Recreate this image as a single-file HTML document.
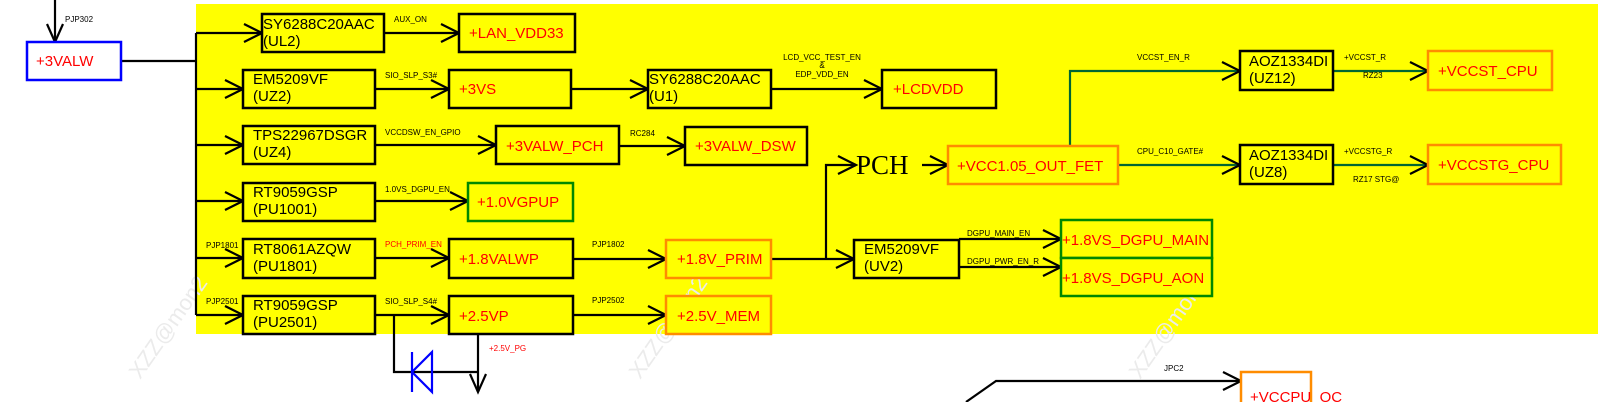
<!DOCTYPE html>
<html><head><meta charset="utf-8"><style>
html,body{margin:0;padding:0;background:#fff;}
svg{display:block;font-family:"Liberation Sans",sans-serif;}
.b{font-size:15px;fill:#000;}
.r{font-size:15px;fill:#f00;}
.s{font-size:8px;fill:#000;}
</style></head><body>
<svg width="1619" height="402" viewBox="0 0 1619 402" xmlns="http://www.w3.org/2000/svg">
<rect x="196" y="4" width="1402" height="330" fill="#ffff00"/>
<g font-size="22" fill="#ebebeb">
<text transform="translate(140,380) rotate(-55)">XZZ@mon2</text>
<text transform="translate(640,380) rotate(-55)">XZZ@mon2</text>
<text transform="translate(1140,380) rotate(-55)">XZZ@mon2</text>
</g>
<g fill="none" stroke="#000" stroke-width="2.2">
<line x1="55" y1="0" x2="55" y2="42"/><path d="M47,24 L55,42 L63,24"/>
<line x1="121" y1="61" x2="196" y2="61"/>
<line x1="196" y1="33" x2="196" y2="315"/>
<line x1="196" y1="33" x2="262" y2="33"/><path d="M244,24 L262,33 L244,42"/>
<line x1="196" y1="89" x2="243" y2="89"/><path d="M225,80 L243,89 L225,98"/>
<line x1="196" y1="145" x2="243" y2="145"/><path d="M225,136 L243,145 L225,154"/>
<line x1="196" y1="201" x2="243" y2="201"/><path d="M225,192 L243,201 L225,210"/>
<line x1="196" y1="258" x2="243" y2="258"/><path d="M225,249 L243,258 L225,267"/>
<line x1="196" y1="315" x2="243" y2="315"/><path d="M225,306 L243,315 L225,324"/>
<line x1="384" y1="33" x2="459" y2="33"/><path d="M441,24 L459,33 L441,42"/>
<line x1="375" y1="89" x2="449" y2="89"/><path d="M431,80 L449,89 L431,98"/>
<line x1="375" y1="145" x2="496" y2="145"/><path d="M478,136 L496,145 L478,154"/>
<line x1="375" y1="201" x2="468" y2="201"/><path d="M450,192 L468,201 L450,210"/>
<line x1="375" y1="258" x2="449" y2="258"/><path d="M431,249 L449,258 L431,267"/>
<line x1="375" y1="315" x2="449" y2="315"/><path d="M431,306 L449,315 L431,324"/>
<line x1="571" y1="89" x2="648" y2="89"/><path d="M630,80 L648,89 L630,98"/>
<line x1="771" y1="89" x2="882" y2="89"/><path d="M864,80 L882,89 L864,98"/>
<line x1="619" y1="146" x2="685" y2="146"/><path d="M667,137 L685,146 L667,155"/>
<line x1="573" y1="259" x2="666" y2="259"/><path d="M648,250 L666,259 L648,268"/>
<line x1="573" y1="315" x2="666" y2="315"/><path d="M648,306 L666,315 L648,324"/>
<line x1="771" y1="259" x2="854" y2="259"/><path d="M836,250 L854,259 L836,268"/>
<path d="M826,259 L826,165 L856,165"/><path d="M838,156 L856,165 L838,174"/>
<line x1="922" y1="165" x2="948" y2="165"/><path d="M930,156 L948,165 L930,174"/>
<line x1="959" y1="239" x2="1061" y2="239"/><path d="M1043,230 L1061,239 L1043,248"/>
<line x1="959" y1="267" x2="1061" y2="267"/><path d="M1043,258 L1061,267 L1043,276"/>
<path d="M394,315 L394,372 L478,372"/>
<line x1="478" y1="334" x2="478" y2="392"/><path d="M470,374 L478,392 L486,374"/>
<path d="M966,402 L996,381 L1241,381"/><path d="M1223,372 L1241,381 L1223,390"/>
</g>
<g fill="none" stroke="#063" stroke-width="2.2">
<path d="M1070,146 L1070,71 L1240,71"/>
<line x1="1118" y1="165" x2="1240" y2="165"/>
<line x1="1333" y1="71" x2="1428" y2="71"/>
<line x1="1333" y1="165" x2="1428" y2="165"/>
</g>
<g fill="none" stroke="#000" stroke-width="2.2">
<path d="M1222,62 L1240,71 L1222,80"/><path d="M1222,156 L1240,165 L1222,174"/>
<path d="M1410,62 L1428,71 L1410,80"/><path d="M1410,156 L1428,165 L1410,174"/>
</g>
<g stroke="#0000ff" stroke-width="2.2" fill="none"><line x1="412" y1="352" x2="412" y2="392"/><path d="M432,352 L412,372 L432,392 Z"/></g>
<g stroke-width="2.5" fill="#ffff00">
<rect x="27" y="42" width="94" height="38" fill="#fff" stroke="#0000ff"/>
<rect x="262" y="14" width="122" height="38" stroke="#000"/>
<rect x="243" y="70" width="132" height="38" stroke="#000"/>
<rect x="243" y="126" width="132" height="38" stroke="#000"/>
<rect x="243" y="183" width="132" height="38" stroke="#000"/>
<rect x="243" y="239" width="132" height="39" stroke="#000"/>
<rect x="243" y="296" width="132" height="38" stroke="#000"/>
<rect x="459" y="14" width="116" height="38" stroke="#000"/>
<rect x="449" y="70" width="122" height="38" stroke="#000"/>
<rect x="496" y="126" width="123" height="38" stroke="#000"/>
<rect x="468" y="183" width="105" height="38" stroke="#080"/>
<rect x="449" y="239" width="124" height="39" stroke="#000"/>
<rect x="449" y="296" width="124" height="38" stroke="#000"/>
<rect x="648" y="70" width="123" height="38" stroke="#000"/>
<rect x="882" y="70" width="114" height="38" stroke="#000"/>
<rect x="685" y="127" width="122" height="38" stroke="#000"/>
<rect x="666" y="240" width="105" height="38" stroke="#ff8c00"/>
<rect x="666" y="296" width="105" height="38" stroke="#ff8c00"/>
<rect x="854" y="240" width="105" height="38" stroke="#000"/>
<rect x="948" y="146" width="170" height="38" stroke="#ff8c00"/>
<rect x="1240" y="51" width="93" height="39" stroke="#000"/>
<rect x="1240" y="145" width="93" height="39" stroke="#000"/>
<rect x="1428" y="51" width="124" height="39" stroke="#ff8c00"/>
<rect x="1428" y="145" width="133" height="39" stroke="#ff8c00"/>
<rect x="1061" y="220" width="151" height="38" stroke="#080"/>
<rect x="1061" y="258" width="151" height="38" stroke="#080"/>
<rect x="1241" y="372" width="70" height="40" fill="#fff" stroke="#ff8c00"/>
</g>
<text class="r" x="36" y="66">+3VALW</text>
<text class="s" x="65" y="22">PJP302</text>
<text class="b" x="263" y="29">SY6288C20AAC</text><text class="b" x="263" y="46">(UL2)</text>
<text class="b" x="253" y="84">EM5209VF</text><text class="b" x="253" y="101">(UZ2)</text>
<text class="b" x="253" y="140">TPS22967DSGR</text><text class="b" x="253" y="157">(UZ4)</text>
<text class="b" x="253" y="197">RT9059GSP</text><text class="b" x="253" y="214">(PU1001)</text>
<text class="b" x="253" y="254">RT8061AZQW</text><text class="b" x="253" y="271">(PU1801)</text>
<text class="b" x="253" y="310">RT9059GSP</text><text class="b" x="253" y="327">(PU2501)</text>
<text class="s" x="394" y="22">AUX_ON</text>
<text class="s" x="385" y="78">SIO_SLP_S3#</text>
<text class="s" x="385" y="135">VCCDSW_EN_GPIO</text>
<text class="s" x="385" y="192">1.0VS_DGPU_EN</text>
<text class="s" x="385" y="247" style="fill:#f00">PCH_PRIM_EN</text>
<text class="s" x="385" y="304">SIO_SLP_S4#</text>
<text class="s" x="206" y="248">PJP1801</text>
<text class="s" x="206" y="304">PJP2501</text>
<text class="r" x="469" y="38">+LAN_VDD33</text>
<text class="r" x="459" y="94">+3VS</text>
<text class="r" x="506" y="151">+3VALW_PCH</text>
<text class="r" x="477" y="207">+1.0VGPUP</text>
<text class="r" x="459" y="264">+1.8VALWP</text>
<text class="r" x="459" y="321">+2.5VP</text>
<text class="b" x="649" y="84">SY6288C20AAC</text><text class="b" x="649" y="101">(U1)</text>
<text class="s" x="822" y="60" text-anchor="middle">LCD_VCC_TEST_EN</text>
<text class="s" x="822" y="68" text-anchor="middle">&amp;</text>
<text class="s" x="822" y="77" text-anchor="middle">EDP_VDD_EN</text>
<text class="r" x="893" y="94">+LCDVDD</text>
<text class="s" x="630" y="136">RC284</text>
<text class="r" x="695" y="151">+3VALW_DSW</text>
<text class="s" x="592" y="247">PJP1802</text>
<text class="s" x="592" y="303">PJP2502</text>
<text class="r" x="677" y="264">+1.8V_PRIM</text>
<text class="r" x="677" y="321">+2.5V_MEM</text>
<text x="856" y="174" font-family="Liberation Serif,serif" font-size="27">PCH</text>
<text class="r" x="957" y="171">+VCC1.05_OUT_FET</text>
<text class="b" x="864" y="254">EM5209VF</text><text class="b" x="864" y="271">(UV2)</text>
<text class="s" x="967" y="236">DGPU_MAIN_EN</text>
<text class="s" x="967" y="264">DGPU_PWR_EN_R</text>
<text class="r" x="1062" y="245">+1.8VS_DGPU_MAIN</text>
<text class="r" x="1062" y="283">+1.8VS_DGPU_AON</text>
<text class="s" x="1137" y="60">VCCST_EN_R</text>
<text class="s" x="1137" y="154">CPU_C10_GATE#</text>
<text class="b" x="1249" y="66">AOZ1334DI</text><text class="b" x="1249" y="83">(UZ12)</text>
<text class="b" x="1249" y="160">AOZ1334DI</text><text class="b" x="1249" y="177">(UZ8)</text>
<text class="s" x="1344" y="60">+VCCST_R</text>
<text class="s" x="1363" y="78">RZ23</text>
<text class="s" x="1344" y="154">+VCCSTG_R</text>
<text class="s" x="1353" y="182">RZ17 STG@</text>
<text class="r" x="1438" y="76">+VCCST_CPU</text>
<text class="r" x="1438" y="170">+VCCSTG_CPU</text>
<text class="s" x="1164" y="371">JPC2</text>
<text class="r" x="1250" y="402">+VCCPU_OC</text>
<text x="489" y="351" font-size="8" fill="#f00">+2.5V_PG</text>
</svg>
</body></html>
